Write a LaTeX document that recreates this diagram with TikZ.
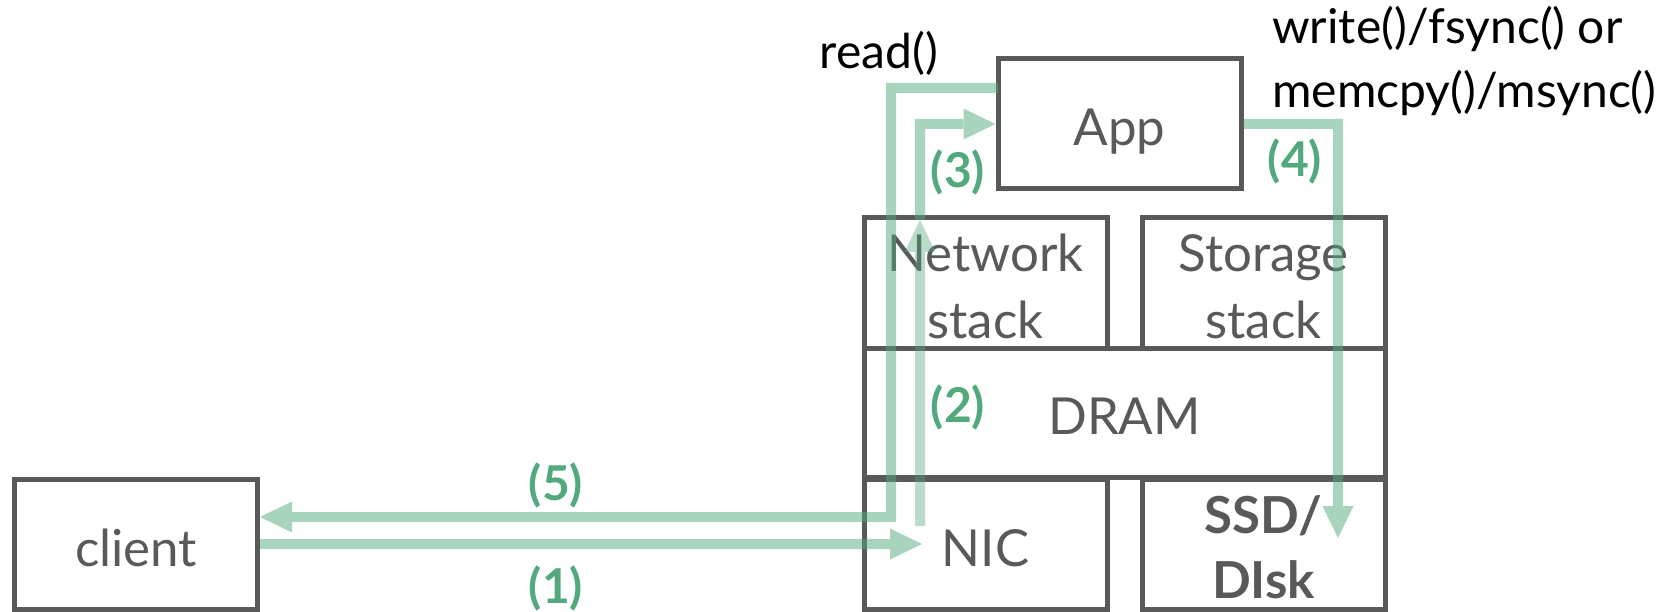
\documentclass[tikz,border=0pt]{standalone}
\usepackage{fontspec}
\setmainfont{Lato}
\usetikzlibrary{arrows.meta}
\definecolor{boxgray}{HTML}{595959}
\definecolor{flowgreen}{HTML}{52AA7C}
\begin{document}
\begin{tikzpicture}[x=1pt,y=-1pt,
  box/.style={draw=boxgray, line width=5pt, text=boxgray,
    minimum width=243pt, minimum height=130pt, inner sep=0pt,
    text height=44pt, text depth=0pt, font=\fontsize{51}{66}\selectfont},
  boxtext/.style={text=boxgray, inner sep=0pt, anchor=base,
    font=\fontsize{51}{66}\selectfont},
  flow/.style={draw=flowgreen, line width=10pt,
    -{Triangle[length=32pt,width=31pt,line width=0pt]}},
  stepnum/.style={text=flowgreen, inner sep=0pt,
    font=\fontsize{48}{56}\selectfont\bfseries},
  call/.style={text=black, inner sep=0pt, font=\fontsize{48}{64}\selectfont}]
\useasboundingbox (0,0) rectangle (1672,612);

% machine blocks
\node[box] (client) at (136,544) {client};
\node[box] (nic) at (985.5,544) {NIC};
\node[box] (ssd) at (1263.5,544) {};
\node[box, minimum width=521pt, minimum height=129pt] (dram) at (1124.5,412.5) {DRAM};
\node[box] (netstack) at (985.5,283) {};
\node[box] (storstack) at (1263.5,283) {};
\node[box] (app) at (1119.5,124) {App};

% two-line block labels
\node[boxtext] (netl1) at (985.5,272) {Network};
\node[boxtext] (netl2) at (985.5,338) {stack};
\node[boxtext] (storl1) at (1263.5,272) {Storage};
\node[boxtext] (storl2) at (1263.5,338) {stack};
\node[boxtext, font=\fontsize{51}{66}\selectfont\bfseries] (ssdl1) at (1263.5,533) {SSD/};
\node[boxtext, font=\fontsize{51}{66}\selectfont\bfseries] (ssdl2) at (1263.5,598) {DIsk};

% system calls
\node[call] (rd) at (879,53) {read()};
\node[call, anchor=base west] (wr1) at (1272,44) {write()/fsync() or};
\node[call, anchor=base west] (wr2) at (1272,108) {memcpy()/msync()};

% data path end points
\coordinate (nicin) at (922,544);
\coordinate (nicup) at (920,526);
\coordinate (stacktop) at (920,220);
\coordinate (appout) at (998,88);
\coordinate (retx) at (891,88);
\coordinate (disk) at (1338,538);

% data path
\begin{scope}[transparency group, opacity=0.5]
  \draw[flow] (client.east) -- (nicin);
\end{scope}
\begin{scope}[transparency group, opacity=0.4]
  \draw[flow] (nicup) -- (stacktop);
\end{scope}
\begin{scope}[transparency group, opacity=0.5]
  \draw[flow] (stacktop) |- (app.west);
\end{scope}
\begin{scope}[transparency group, opacity=0.5]
  \draw[flow] (app.east) -| (disk);
\end{scope}
\begin{scope}[transparency group, opacity=0.5]
  \draw[flow] (appout) -- (retx) |- ([yshift=27pt]client.east);
\end{scope}

% step numbers
\node[stepnum] (s1) at (556,588) {(1)};
\node[stepnum] (s2) at (958,407) {(2)};
\node[stepnum] (s3) at (958,172) {(3)};
\node[stepnum] (s4) at (1295,161) {(4)};
\node[stepnum] (s5) at (556,485) {(5)};
\end{tikzpicture}
\end{document}
